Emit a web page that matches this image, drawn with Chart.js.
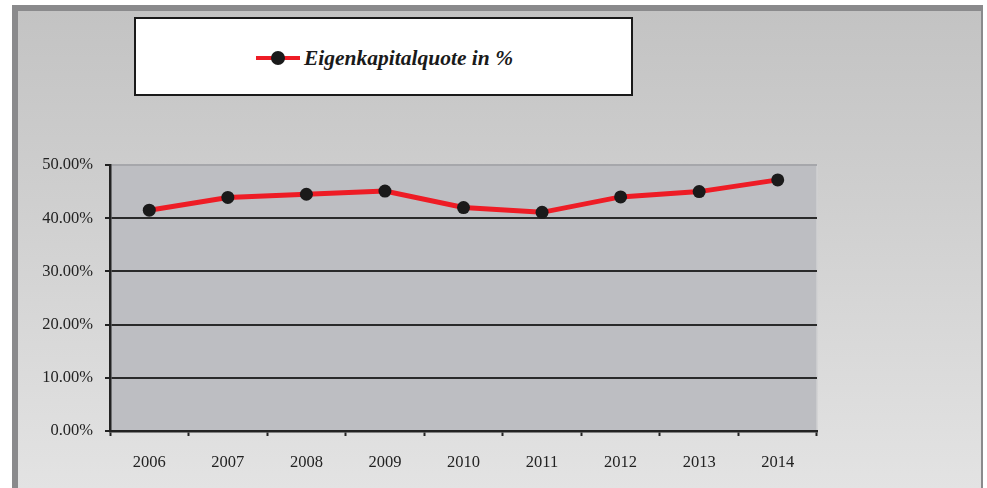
<!DOCTYPE html>
<html>
<head>
<meta charset="utf-8">
<script src="https://cdn.jsdelivr.net/npm/chart.js@4/dist/chart.umd.min.js"></script>
<style>
  html, body { margin:0; padding:0; background:#ffffff; width:987px; height:488px; overflow:hidden; }
  #frame { position:absolute; left:12px; top:5px; width:971px; height:483px;
    border-top:6px solid #8a8a8c; border-left:6px solid #8a8a8c; border-right:2px solid #8a8a8c;
    box-sizing:border-box;
    background:linear-gradient(to bottom, #c3c3c3 0%, #cfcfcf 40%, #e3e3e3 100%); }
  #legend { position:absolute; left:134px; top:17px; width:499px; height:79px; box-sizing:border-box;
    border:2px solid #1a1a1a; background:#ffffff; }
  #legend .item { position:absolute; left:120px; top:26px; height:26px; display:flex; align-items:center; }
  #legend .sample { position:relative; width:44px; height:24px; }
  #legend .sample .ln { position:absolute; left:0; top:10px; width:44px; height:4px; background:#ee1c25; }
  #legend .sample .pt { position:absolute; left:15px; top:5px; width:14px; height:14px; border-radius:50%; background:#1a1a1a; }
  #legend .txt { margin-left:4px; font-family:"Liberation Serif","DejaVu Serif",serif; font-weight:bold; font-style:italic; font-size:21.5px; color:#1a1a1a; }
  #c { position:absolute; left:0; top:0; }
</style>
</head>
<body>
<div id="frame"></div>
<div id="legend"><div class="item"><div class="sample"><div class="ln"></div><div class="pt"></div></div><span class="txt">Eigenkapitalquote in %</span></div></div>
<canvas id="c" width="987" height="488"></canvas>
<script>
const categories = ["2006","2007","2008","2009","2010","2011","2012","2013","2014"];
const seriesName = "Eigenkapitalquote in %";
const equityRatio = [41.5, 43.9, 44.5, 45.1, 42.0, 41.1, 44.0, 45.0, 47.2];
const yTicks = [0, 10, 20, 30, 40, 50];

const plotBg = {
  id: 'plotBg',
  beforeDraw(chart) {
    const a = chart.chartArea, ctx = chart.ctx;
    ctx.save();
    ctx.fillStyle = '#bdbec2';
    ctx.fillRect(a.left, a.top, a.right - a.left, a.bottom - a.top);
    ctx.strokeStyle = '#d0d0d2';
    ctx.lineWidth = 1.5;
    ctx.beginPath();
    ctx.moveTo(a.right, a.top); ctx.lineTo(a.right, a.bottom);
    ctx.stroke();
    ctx.restore();
  }
};

const tickFont = { family: '"Liberation Serif","DejaVu Serif",serif', size: 16.5 };

new Chart(document.getElementById('c'), {
  type: 'line',
  data: {
    labels: categories,
    datasets: [{
      label: seriesName,
      data: equityRatio,
      borderColor: '#ee1c25',
      borderWidth: 5,
      pointRadius: 6.5,
      pointHoverRadius: 6.5,
      pointBackgroundColor: '#1a1a1a',
      pointBorderColor: '#1a1a1a',
      pointBorderWidth: 0,
      tension: 0
    }]
  },
  options: {
    responsive: false,
    animation: false,
    devicePixelRatio: 1,
    layout: { padding: { left: 0, top: 165, right: 170, bottom: 0 } },
    plugins: { legend: { display: false }, tooltip: { enabled: false } },
    scales: {
      x: {
        type: 'category',
        offset: true,
        afterFit(s) { s.height = 57; },
        grid: { offset: true, drawOnChartArea: false, drawTicks: true, tickLength: 5, tickColor: '#222', tickWidth: 2 },
        border: { display: true, color: '#222', width: 2.5 },
        ticks: { color: '#222', padding: 17, font: tickFont }
      },
      y: {
        min: 0, max: 50,
        afterFit(s) { s.width = 110; },
        afterBuildTicks(s) { s.ticks = yTicks.map(v => ({ value: v })); },
        grid: {
          color: ctx => (ctx.tick && ctx.tick.value === 50) ? '#a6a7ab' : (ctx.tick && ctx.tick.value === 0 ? 'rgba(0,0,0,0)' : '#2a2a2a'),
          lineWidth: 2,
          tickLength: 5, tickColor: '#222', tickWidth: 2
        },
        border: { display: true, color: '#222', width: 2.5 },
        ticks: {
          color: '#222', padding: 12,
          font: tickFont,
          callback: v => v.toFixed(2) + '%'
        }
      }
    }
  },
  plugins: [plotBg]
});
</script>
</body>
</html>
